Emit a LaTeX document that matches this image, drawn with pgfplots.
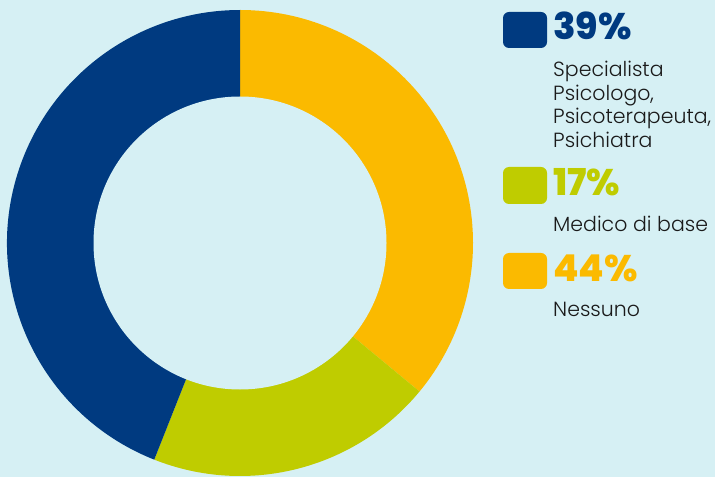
\documentclass[border=0pt]{standalone}
\usepackage{pgfplots}
\pgfplotsset{compat=1.18}
\usepackage{pgfplotstable}
\usepackage{fontspec}
\setmainfont{Poppins}
\newfontfamily\lightf{Poppins Light}
\newfontfamily\heavyf{Poppins ExtraBold}
\definecolor{bg}{HTML}{D6F0F4}
\definecolor{cblue}{HTML}{003A80}
\definecolor{cgreen}{HTML}{BFCC00}
\definecolor{cyellow}{HTML}{FBBA00}
\definecolor{ctext}{HTML}{1A1A1A}
% shares of the ring as drawn, clockwise from the top
\pgfplotstableread{
share color
36 cyellow
20 cgreen
44 cblue
}\slices
\begin{document}
\begin{tikzpicture}
\useasboundingbox (0,0) rectangle (715pt,477pt);
\fill[bg] (0,0) rectangle (715pt,477pt);
\begin{axis}[
  at={(0,0)}, anchor=south west,
  width=715pt, height=477pt, scale only axis,
  xmin=0, xmax=715, ymin=0, ymax=477,
  hide axis, clip=true,
]
\def\cur{90}
\pgfplotsforeachungrouped \i in {0,1,2}{
  \pgfplotstablegetelem{\i}{share}\of\slices \let\v\pgfplotsretval
  \pgfplotstablegetelem{\i}{color}\of\slices \let\c\pgfplotsretval
  \pgfmathsetmacro\nxt{\cur-3.6*\v}
  \edef\tmp{\noexpand\fill[\c] (axis cs:240,234) -- ++(\cur:233pt) arc[start angle=\cur,end angle=\nxt,radius=233pt] -- cycle;}
  \tmp
  \let\cur\nxt
}
\fill[bg] (axis cs:240,234) circle[radius=146.5pt];
% legend
\fill[cblue, rounded corners=6pt] (axis cs:503,429) rectangle (axis cs:547,465);
\fill[cgreen, rounded corners=6pt] (axis cs:503,273) rectangle (axis cs:547,310);
\fill[cyellow, rounded corners=6pt] (axis cs:503,188) rectangle (axis cs:547,224);
\node[anchor=base west, inner sep=0pt, text=cblue, font=\heavyf\fontsize{37}{40}\selectfont] at (axis cs:553,437) {39\%};
\node[anchor=base west, inner sep=0pt, text=cgreen, font=\heavyf\fontsize{37}{40}\selectfont] at (axis cs:553,281) {17\%};
\node[anchor=base west, inner sep=0pt, text=cyellow, font=\heavyf\fontsize{37}{40}\selectfont] at (axis cs:553,195) {44\%};
\begin{scope}[every node/.style={anchor=base west, inner sep=0pt, text=ctext, font=\lightf\fontsize{20.5}{23}\selectfont}]
\node at (axis cs:553,400) {Specialista};
\node at (axis cs:553,376.5) {Psicologo,};
\node at (axis cs:553,353) {Psicoterapeuta,};
\node at (axis cs:553,329.5) {Psichiatra};
\node at (axis cs:553,245) {Medico di base};
\node at (axis cs:553,160) {Nessuno};
\end{scope}
\end{axis}
\end{tikzpicture}
\end{document}
